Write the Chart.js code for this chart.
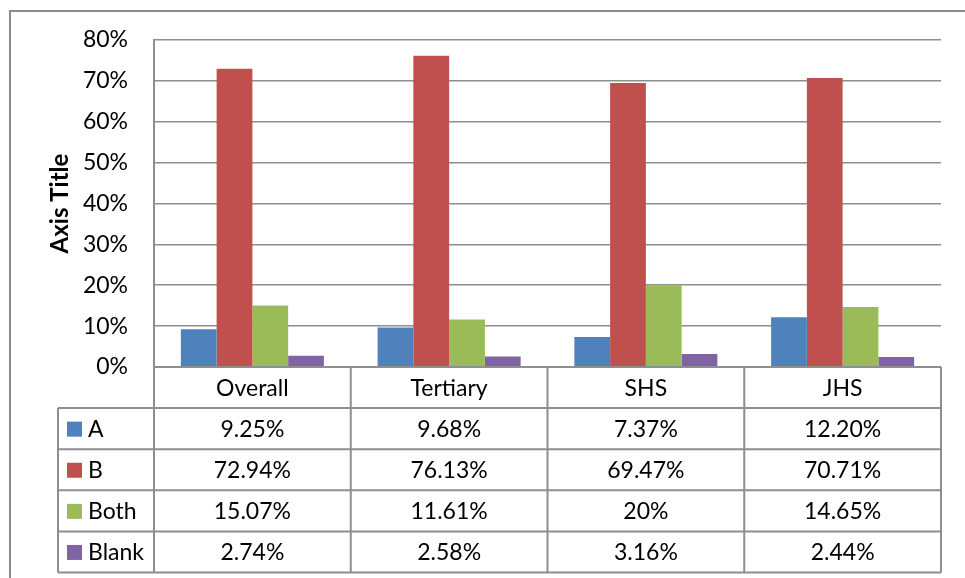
<!DOCTYPE html>
<html>
<head>
<meta charset="utf-8">
<script src="https://cdn.jsdelivr.net/npm/chart.js@4.4.1/dist/chart.umd.min.js"></script>
<style>
  body { margin: 0; background: #fff; }
  canvas { display: block; }
</style>
</head>
<body>
<canvas id="chart" width="965" height="578"></canvas>
<script>
const categories = ["Overall", "Tertiary", "SHS", "JHS"];
const seriesNames = ["A", "B", "Both", "Blank"];
const aValues = [9.25, 9.68, 7.37, 12.20];
const bValues = [72.94, 76.13, 69.47, 70.71];
const bothValues = [15.07, 11.61, 20, 14.65];
const blankValues = [2.74, 2.58, 3.16, 2.44];
const seriesColors = ["#4F81BD", "#C0504D", "#9BBB59", "#8064A2"];
const allValues = [aValues, bValues, bothValues, blankValues];

const FONT = "Lato, 'Open Sans', sans-serif";
const LINE = "#8e8e8e";

function fmtPct(v) {
    return v.toFixed(2).replace(/\.00$/, "") + "%";
}

// excel-style border round the chart area (only top and left are visible)
const frame = {
    id: "frame",
    beforeDraw(chart) {
        const ctx = chart.ctx;
        ctx.save();
        ctx.strokeStyle = "#8a8a8a";
        ctx.lineWidth = 2;
        ctx.beginPath();
        ctx.moveTo(10, chart.height);
        ctx.lineTo(10, 11);
        ctx.lineTo(chart.width, 11);
        ctx.stroke();
        ctx.restore();
    }
};

// data table under the plot
const dataTable = {
    id: "dataTable",
    afterDraw(chart) {
        const ctx = chart.ctx;
        const area = chart.chartArea;
        const left = area.left, right = area.right;
        const colW = (right - left) / categories.length;
        const rowH = 41.1;
        const top = area.bottom;
        const labelLeft = 58;
        const rows = seriesNames.length + 1;
        const bottom = top + rows * rowH;

        ctx.save();
        ctx.strokeStyle = LINE;
        ctx.lineWidth = 2;
        ctx.beginPath();
        for (let i = 0; i <= rows; i++) {
            let y = top + i * rowH;
            ctx.moveTo(i === 0 ? left : labelLeft, y);
            ctx.lineTo(right, y);
        }
        for (let k = 0; k <= categories.length; k++) {
            let x = left + k * colW;
            ctx.moveTo(x, top);
            ctx.lineTo(x, bottom);
        }
        ctx.moveTo(labelLeft, top + rowH);
        ctx.lineTo(labelLeft, bottom);
        ctx.stroke();

        ctx.fillStyle = "#000";
        ctx.font = "23px " + FONT;
        ctx.textAlign = "center";
        ctx.textBaseline = "middle";
        categories.forEach((c, k) => {
            ctx.fillText(c, left + (k + 0.5) * colW, top + rowH / 2 + 1);
        });

        seriesNames.forEach((name, i) => {
            let cy = top + (i + 1.5) * rowH + 1;
            ctx.fillStyle = seriesColors[i];
            ctx.fillRect(67, cy - 8, 15, 15);
            ctx.fillStyle = "#000";
            ctx.textAlign = "left";
            ctx.fillText(name, 88, cy);
            ctx.textAlign = "center";
            allValues[i].forEach((v, k) => {
                ctx.fillText(fmtPct(v), left + (k + 0.5) * colW, cy);
            });
        });
        ctx.restore();
    }
};

const datasets = seriesNames.map((name, i) => ({
    label: name,
    data: allValues[i],
    backgroundColor: seriesColors[i],
    borderWidth: 0,
    categoryPercentage: 0.727,
    barPercentage: 1.0
}));

new Chart(document.getElementById("chart").getContext("2d"), {
    type: "bar",
    data: { labels: categories, datasets },
    options: {
        responsive: false,
        animation: false,
        layout: { padding: { left: 10, right: 24, top: 40, bottom: 0 } },
        plugins: {
            legend: { display: false },
            tooltip: { enabled: false }
        },
        scales: {
            x: {
                ticks: { display: false },
                grid: { display: false },
                border: { display: false },
                afterFit: s => { s.height = 211; }
            },
            y: {
                min: 0,
                max: 80,
                ticks: {
                    stepSize: 10,
                    padding: 26,
                    color: "#000",
                    font: { family: FONT, size: 23 },
                    callback: v => v + "%"
                },
                grid: { color: LINE, lineWidth: 1.6, drawTicks: false },
                border: { color: LINE, width: 2 },
                title: {
                    display: true,
                    text: "Axis Title",
                    color: "#000",
                    font: { family: FONT, size: 24, weight: "bold" },
                    padding: { top: 36, bottom: 0 }
                },
                afterFit: s => { s.width = 144; }
            }
        }
    },
    plugins: [frame, dataTable]
});
</script>
</body>
</html>
